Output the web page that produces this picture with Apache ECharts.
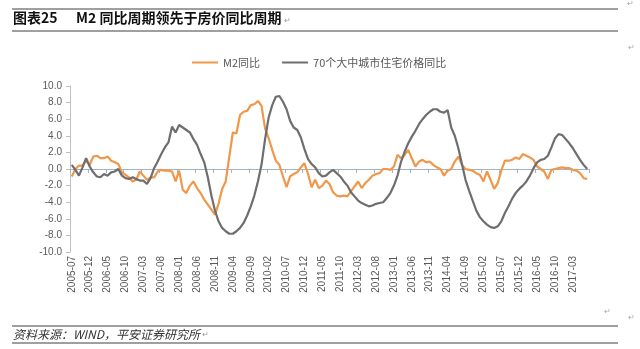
<!DOCTYPE html>
<html>
<head>
<meta charset="utf-8">
<script src="https://cdn.jsdelivr.net/npm/echarts@6/dist/echarts.min.js"></script>
<style>
html,body{margin:0;padding:0;background:#fff;}
#chart{width:640px;height:349px;}
</style>
</head>
<body>
<div id="chart"></div>
<script>
// Monthly categories 2005-07 .. 2017-07
var startYear = 2005, startMonth = 7, monthCount = 145;
var categories = [];
for (var k = 0; k < monthCount; k++) {
  var m = startMonth - 1 + k;
  var yy = startYear + Math.floor(m / 12);
  var mm = (m % 12) + 1;
  categories.push(yy + '-' + (mm < 10 ? '0' + mm : '' + mm));
}

var seriesNames = ['M2同比', '70个大中城市住宅价格同比'];

var m2Values = [
  -0.9, 0.0, 0.4, 0.4, 1.0, 0.5, 1.5, 1.6, 1.3, 1.3,
  1.5, 1.0, 0.8, 0.6, -0.4, -0.7, -1.0, -1.5, -1.3, -0.3,
  -0.8, -1.3, -1.0, -1.0, -0.3, -0.1, -0.2, -0.2, -0.3, -1.5,
  -0.2, -2.5, -2.9, -2.0, -1.5, -2.3, -2.9, -3.7, -4.3, -4.9,
  -5.5, -4.2, -2.4, -1.5, 1.5, 4.4, 4.3, 6.5, 6.9, 7.0,
  7.7, 7.8, 8.2, 7.6, 4.9, 3.7, 2.3, 1.0, 0.5, -0.9,
  -2.2, -0.9, -0.6, -0.4, 0.2, 0.7, -0.6, -2.2, -1.3, -2.3,
  -2.0, -1.4, -1.8, -2.8, -3.2, -3.3, -3.2, -3.3, -2.7, -2.1,
  -1.5, -2.3, -1.7, -1.3, -0.8, -0.6, -0.5, 0.0, 0.0, -0.1,
  0.3, 1.7, 1.3, 1.7, 2.3, 1.3, 0.3, 0.9, 1.1, 0.8,
  0.9, 0.5, 0.2, 0.0, -0.8, -0.2, 0.0, 0.9, 1.5, 0.5,
  0.0, -0.1, -0.2, -0.5, -0.7, -1.5, -0.3, -1.3, -2.4, -1.7,
  -0.2, 1.0, 1.0, 1.1, 1.4, 1.2, 1.8, 1.6, 1.4, 1.1,
  0.3, 0.0, -0.3, -1.2, -0.1, 0.0, 0.1, 0.2, 0.1, 0.1,
  -0.1, -0.2, -0.5, -1.1, -1.2
];

var houseValues = [
  0.5, -0.1, -0.8, 0.2, 1.3, 0.3, -0.4, -0.9, -1.0, -0.6,
  -0.8, -0.4, -0.3, 0.0, -0.8, -1.1, -1.2, -1.0, -1.2, -1.4,
  -1.4, -1.8, -1.1, 0.1, 0.9, 1.8, 2.6, 3.2, 5.1, 4.4,
  5.3, 5.0, 4.7, 4.4, 3.6, 2.9, 1.8, 0.8, -1.0, -3.2,
  -5.0, -6.3, -7.1, -7.5, -7.8, -7.8, -7.5, -7.1, -6.5, -5.6,
  -4.5, -3.2, -1.5, 0.5, 3.6, 6.2, 7.7, 8.7, 8.8, 8.1,
  7.2, 5.8, 5.0, 4.7, 3.8, 2.4, 1.2, 0.6, 0.2, -0.5,
  -0.9, -0.8, -0.4, -0.1, -0.5, -0.9, -1.5, -2.0, -2.8, -3.3,
  -3.8, -4.1, -4.3, -4.5, -4.4, -4.2, -4.1, -4.0, -3.5, -2.9,
  -2.0, -0.8, 0.9, 2.1, 3.1, 3.9, 4.6, 5.4, 6.0, 6.5,
  6.9, 7.2, 7.2, 6.9, 6.8, 7.1, 5.0, 4.0, 2.5, 0.6,
  -1.3, -2.6, -3.8, -5.0, -5.8, -6.3, -6.7, -7.0, -7.1, -6.9,
  -6.3, -5.3, -4.5, -3.6, -2.9, -2.4, -2.0, -1.5, -0.8, 0.1,
  0.8, 1.1, 1.2, 1.6, 2.6, 3.7, 4.2, 4.1, 3.6, 3.1,
  2.5, 1.8, 1.1, 0.5, 0.0
];

var yMin = -10, yMax = 10, yInterval = 2;
var titleLabel = '图表25';
var titleText = 'M2 同比周期领先于房价同比周期';
var sourceText = '资料来源：WIND，平安证券研究所';
var paraMark = '↵';

var cjk = '"Noto Sans CJK SC", "Noto Sans", sans-serif';
var latin = '"Liberation Sans", Arial, sans-serif';
var labelColor = '#595959';

var chart = echarts.init(document.getElementById('chart'), null, {renderer: 'canvas'});
chart.setOption({
  animation: false,
  backgroundColor: '#ffffff',
  grid: {left: 70, right: 51, top: 86, bottom: 97, containLabel: false},
  legend: {
    left: 187, top: 52,
    itemWidth: 26, itemHeight: 2, itemGap: 22,
    icon: 'rect',
    textStyle: {color: labelColor, fontSize: 11, fontFamily: cjk},
    data: seriesNames
  },
  xAxis: [
    {
      type: 'category', data: categories, position: 'bottom',
      boundaryGap: true,
      axisLine: {show: false, onZero: false},
      axisTick: {show: false},
      axisLabel: {interval: 4, rotate: 90, margin: 4, color: labelColor, fontSize: 10, fontFamily: latin},
      splitLine: {show: false}
    },
    {
      type: 'category', data: categories, position: 'top',
      boundaryGap: true,
      axisLine: {show: true, onZero: true, lineStyle: {color: '#a3b3c6', width: 1}},
      axisTick: {show: true, inside: true, interval: 4, length: 4, lineStyle: {color: '#a3b3c6'}},
      axisLabel: {show: false},
      splitLine: {show: false}
    }
  ],
  yAxis: {
    type: 'value', min: yMin, max: yMax, interval: yInterval,
    axisLine: {show: true, lineStyle: {color: '#bfbfbf'}},
    axisTick: {show: true, length: 4, lineStyle: {color: '#bfbfbf'}},
    axisLabel: {margin: 8, color: labelColor, fontSize: 10, fontFamily: latin,
      formatter: function (v) { return v.toFixed(1); }},
    splitLine: {show: false}
  },
  series: [
    {
      name: seriesNames[0], type: 'line', data: m2Values,
      xAxisIndex: 0, symbol: 'none', smooth: false,
      lineStyle: {color: '#F0974A', width: 2.2},
      itemStyle: {color: '#F0974A'}
    },
    {
      name: seriesNames[1], type: 'line', data: houseValues,
      xAxisIndex: 0, symbol: 'none', smooth: false,
      lineStyle: {color: '#6E6E6E', width: 2.2},
      itemStyle: {color: '#6E6E6E'}
    }
  ],
  graphic: [
    {type: 'line', shape: {x1: 12, y1: 9, x2: 618, y2: 9}, style: {stroke: '#404040', lineWidth: 1}},
    {type: 'line', shape: {x1: 12, y1: 31, x2: 618, y2: 31}, style: {stroke: '#404040', lineWidth: 1}},
    {type: 'text', left: 13, top: 11, style: {text: titleLabel, fontSize: 14, fontWeight: 'bold', fontFamily: cjk, fill: '#111'}},
    {type: 'text', left: 76, top: 11, style: {text: titleText, fontSize: 14, fontWeight: 'bold', fontFamily: cjk, fill: '#111'}},
    {type: 'text', left: 284, top: 17, style: {text: paraMark, fontSize: 8, fontFamily: latin, fill: '#999'}},
    {type: 'text', left: 627, top: 0, style: {text: paraMark, fontSize: 8, fontFamily: latin, fill: '#aaa'}},
    {type: 'text', left: 628, top: 44, style: {text: paraMark, fontSize: 8, fontFamily: latin, fill: '#aaa'}},
    {type: 'text', left: 604, top: 308, style: {text: paraMark, fontSize: 8, fontFamily: latin, fill: '#aaa'}},
    {type: 'text', left: 628, top: 314, style: {text: paraMark, fontSize: 8, fontFamily: latin, fill: '#aaa'}},
    {type: 'line', shape: {x1: 12, y1: 326, x2: 618, y2: 326}, style: {stroke: '#404040', lineWidth: 1}},
    {type: 'line', shape: {x1: 12, y1: 343, x2: 618, y2: 343}, style: {stroke: '#404040', lineWidth: 1}},
    {type: 'text', left: 13, top: 328, style: {text: sourceText, fontSize: 12, fontStyle: 'italic', fontFamily: cjk, fill: '#333'}},
    {type: 'text', left: 202, top: 331, style: {text: paraMark, fontSize: 8, fontFamily: latin, fill: '#999'}}
  ]
});
</script>
</body>
</html>
